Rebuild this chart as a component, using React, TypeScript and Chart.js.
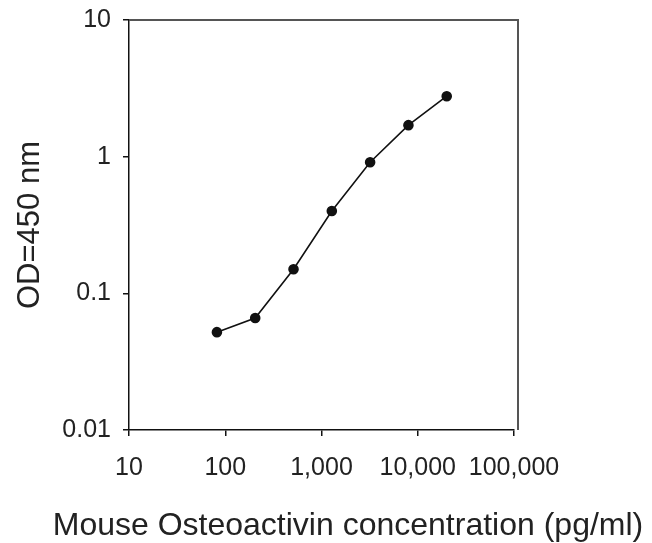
import React, { useEffect, useRef } from "react";
import { Chart, registerables } from "chart.js";

Chart.register(...registerables);

const concentrations = [81.92, 204.8, 512, 1280, 3200, 8000, 20000];
const odValues = [0.052, 0.066, 0.15, 0.4, 0.91, 1.7, 2.77];

const xTickValues = [10, 100, 1000, 10000, 100000];
const xTickLabels = ["10", "100", "1,000", "10,000", "100,000"];
const yTickValues = [0.01, 0.1, 1, 10];
const yTickLabels = ["0.01", "0.1", "1", "10"];

const xTitle = "Mouse Osteoactivin concentration (pg/ml)";
const yTitle = "OD=450 nm";

const FONT = "Arial, Helvetica, sans-serif";

const boxPlugin = {
  id: "boxLines",
  afterDraw(chart: any) {
    const { ctx, chartArea } = chart;
    const r = chartArea.right + 4;
    ctx.save();
    ctx.strokeStyle = "#555";
    ctx.lineWidth = 2;
    ctx.beginPath();
    ctx.moveTo(chartArea.left, chartArea.top);
    ctx.lineTo(r, chartArea.top);
    ctx.lineTo(r, chartArea.bottom);
    ctx.stroke();
    // x-axis title (drawn here so it is not squeezed to the axis width)
    ctx.fillStyle = "#222";
    ctx.font = `32px ${FONT}`;
    ctx.textAlign = "center";
    ctx.textBaseline = "alphabetic";
    ctx.fillText(xTitle, 348, 535);
    ctx.restore();
  },
};

export default function App() {
  const ref = useRef<HTMLCanvasElement>(null);
  useEffect(() => {
    document.body.style.margin = "0";
    const canvas = ref.current!;
    const chart = new Chart(canvas, {
      type: "line",
      data: {
        datasets: [
          {
            data: concentrations.map((c, i) => ({ x: c, y: odValues[i] })),
            borderColor: "#111",
            backgroundColor: "#111",
            borderWidth: 1.6,
            pointRadius: 4.5,
            pointStyle: "circle",
            pointBackgroundColor: "#111",
            pointBorderColor: "#111",
            tension: 0,
          },
        ],
      },
      options: {
        animation: false,
        responsive: false,
        devicePixelRatio: 1,
        layout: { padding: { top: 20, right: 138, left: 0, bottom: 0 } },
        plugins: { legend: { display: false }, tooltip: { enabled: false } },
        scales: {
          x: {
            type: "logarithmic",
            min: 10,
            max: 100000,
            afterBuildTicks: (s: any) => {
              s.ticks = xTickValues.map((v) => ({ value: v }));
            },
            afterFit: (s: any) => {
              s.height = 113;
              s.paddingLeft = 0;
              s.paddingRight = 0;
            },
            grid: {
              display: true,
              drawOnChartArea: false,
              drawTicks: true,
              tickLength: 6,
              color: "#111",
              lineWidth: 1.5,
            },
            border: { display: true, color: "#111", width: 1.5 },
            ticks: {
              autoSkip: false,
              maxRotation: 0,
              padding: 17,
              color: "#222",
              font: { family: FONT, size: 25 },
              callback: (v: any) => {
                const i = xTickValues.indexOf(Number(v));
                return i >= 0 ? xTickLabels[i] : "";
              },
            },
          },
          y: {
            type: "logarithmic",
            min: 0.01,
            max: 10,
            afterBuildTicks: (s: any) => {
              s.ticks = yTickValues.map((v) => ({ value: v }));
            },
            afterFit: (s: any) => {
              s.width = 129;
              s.paddingTop = 0;
              s.paddingBottom = 0;
            },
            grid: {
              display: true,
              drawOnChartArea: false,
              drawTicks: true,
              tickLength: 6,
              color: "#111",
              lineWidth: 1.5,
            },
            border: { display: true, color: "#111", width: 1.5 },
            ticks: {
              autoSkip: false,
              padding: 12,
              color: "#222",
              font: { family: FONT, size: 25 },
              callback: (v: any) => {
                const i = yTickValues.findIndex((t) => Math.abs(t - Number(v)) < 1e-9);
                return i >= 0 ? yTickLabels[i] : "";
              },
            },
            title: {
              display: true,
              text: yTitle,
              color: "#222",
              font: { family: FONT, size: 31, lineHeight: 1 },
              padding: { top: 14.5, bottom: 0 },
            },
          },
        },
      },
      plugins: [boxPlugin],
    });
    return () => chart.destroy();
  }, []);
  return (
    <div style={{ width: 652, height: 543 }}>
      <canvas ref={ref} width={652} height={543} />
    </div>
  );
}
